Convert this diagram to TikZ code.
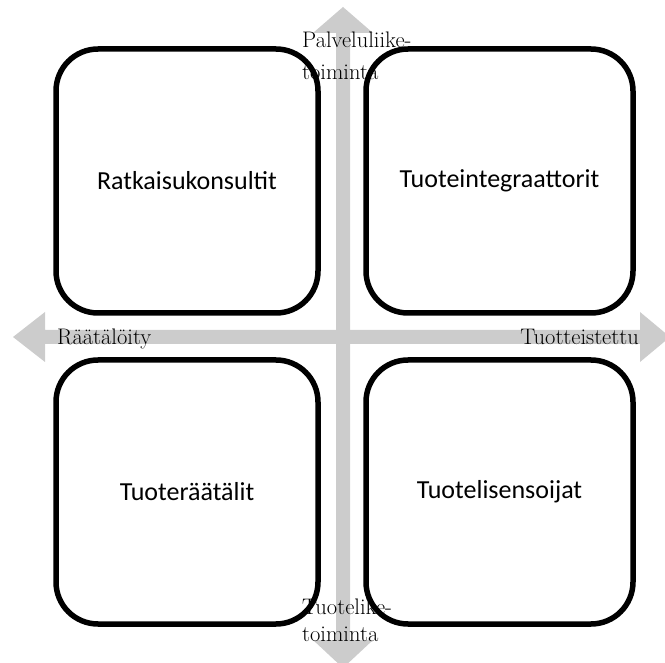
\documentclass[tikz,border=0pt]{standalone}
\usepackage{fontspec}
\newfontfamily\boxfont{Carlito}
\definecolor{axisgray}{HTML}{CCCCCC}
\begin{document}
\begin{tikzpicture}[x=1pt,y=-1pt,
  quad/.style={draw=black, line width=5.5pt, rounded corners=42pt, fill=white,
    minimum width=#1, minimum height=264pt, inner sep=0pt, font=\boxfont\fontsize{26}{30}\selectfont},
  axislabel/.style={inner sep=0pt, font=\fontsize{22.5}{30}\selectfont, align=left},
  toplabel/.style={axislabel, font=\fontsize{22.5}{32}\selectfont},
  bottomlabel/.style={axislabel, font=\fontsize{22.5}{27}\selectfont}]
\useasboundingbox (0,0) rectangle (665,663);
\clip (0,0) rectangle (665,663);
% vertical double arrow
\fill[axisgray] (343,7) -- (373,33) -- (350,33) -- (350,640) -- (373,640) -- (343,668)
  -- (313,640) -- (336,640) -- (336,33) -- (313,33) -- cycle;
% horizontal double arrow
\fill[axisgray] (13,337) -- (45,312) -- (45,330) -- (640,330) -- (640,312) -- (670,337)
  -- (640,362) -- (640,344) -- (45,344) -- (45,362) -- cycle;
% quadrants
\node[quad=262pt] (rk) at (187,181) {Ratkaisukonsultit};
\node[quad=267pt] (ti) at (499.5,181) {Tuoteintegraattorit};
\node[quad=262pt] (tr) at (187,492) {Tuoteräätälit};
\node[quad=267pt] (tl) at (499.5,492) {Tuotelisensoijat};
% axis labels
\node[axislabel, anchor=base west] (left) at (57,345) {Räätälöity};
\node[axislabel, anchor=base east] (right) at (639,345) {Tuotteistettu};
\node[toplabel, anchor=base west] (top) at (302,80) {Palveluliike-\\toiminta};
\node[bottomlabel, anchor=base west] (bottom) at (302,641) {Tuotelike-\\toiminta};
\end{tikzpicture}
\end{document}
